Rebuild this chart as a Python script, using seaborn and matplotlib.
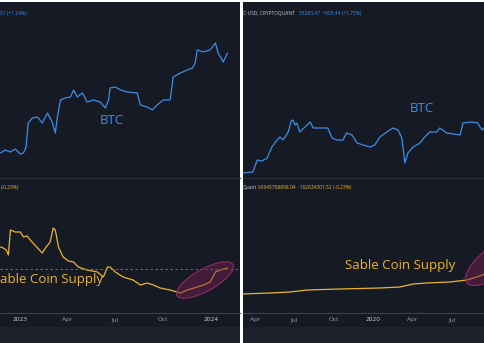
import matplotlib
matplotlib.use("Agg")
import matplotlib.pyplot as plt
from matplotlib.patches import Rectangle, Ellipse
import pandas as pd
import seaborn as sns

sns.set_style("dark")
plt.rcParams['font.family'] = ['Open Sans', 'DejaVu Sans']

# ---------------- data: left chart (2022-11 .. 2024-02) ----------------
left_btc_dates = ["2022-11-24", "2022-12-03", "2022-12-13", "2022-12-22", "2023-01-01", "2023-01-07",
                  "2023-01-12", "2023-01-16", "2023-01-24", "2023-02-03", "2023-02-12", "2023-02-22",
                  "2023-03-03", "2023-03-09", "2023-03-13", "2023-03-19", "2023-03-28", "2023-04-07",
                  "2023-04-13", "2023-04-20", "2023-04-30", "2023-05-09", "2023-05-21", "2023-06-03",
                  "2023-06-13", "2023-06-19", "2023-06-22", "2023-07-02", "2023-07-12", "2023-07-25",
                  "2023-08-13", "2023-08-19", "2023-09-01", "2023-09-11", "2023-09-20", "2023-10-02",
                  "2023-10-15", "2023-10-21", "2023-11-04", "2023-11-17", "2023-11-27", "2023-12-02",
                  "2023-12-06", "2023-12-18", "2023-12-31", "2024-01-10", "2024-01-15", "2024-01-25",
                  "2024-02-02"]
left_btc_price = [16800, 17290, 16960, 17450, 16640, 16800,
                  17790, 22380, 23470, 23690, 22380, 24610,
                  22590, 20330, 23690, 27870, 28410, 28680,
                  30660, 28680, 29800, 27340, 27870, 27340,
                  25820, 27870, 31260, 31550, 30660, 30080,
                  29800, 26570, 26060, 25330, 26570, 27870,
                  27870, 34720, 36070, 37130, 37830, 39690,
                  44940, 44100, 44940, 48010, 43660, 40070,
                  43660]

left_supply_dates = ["2022-11-24", "2022-11-29", "2022-12-05", "2022-12-09", "2022-12-13", "2022-12-22",
                     "2023-01-01", "2023-01-07", "2023-01-14", "2023-01-20", "2023-02-03", "2023-02-12",
                     "2023-02-18", "2023-02-27", "2023-03-05", "2023-03-09", "2023-03-15", "2023-03-24",
                     "2023-04-03", "2023-04-13", "2023-04-22", "2023-05-09", "2023-05-29", "2023-06-09",
                     "2023-06-17", "2023-06-22", "2023-07-02", "2023-07-17", "2023-08-05", "2023-08-19",
                     "2023-09-01", "2023-09-13", "2023-09-26", "2023-10-15", "2023-11-04", "2023-11-17",
                     "2023-12-06", "2023-12-18", "2023-12-31", "2024-01-10", "2024-01-19", "2024-02-02"]
left_supply_bn = [75.5, 75.25, 74.75, 73.5, 79.75, 79.25,
                  79.25, 78.0, 78.25, 77.25, 75.25, 74.0,
                  75.25, 76.75, 80.25, 79.75, 75.5, 73.0,
                  72.0, 71.75, 70.5, 69.75, 69.25, 68.0,
                  70.5, 70.5, 69.25, 68.0, 67.25, 66.0,
                  66.5, 66.0, 65.25, 64.75, 64.0, 64.75,
                  65.5, 66.0, 66.75, 69.25, 69.75, 70.25]
left_supply_last = 70.0

left_tick_dates = ["2023-01-01", "2023-04-01", "2023-07-01", "2023-10-01", "2024-01-01"]
left_tick_labels = ["2023", "Apr", "Jul", "Oct", "2024"]

# ---------------- data: right chart (2019-03 .. 2020-09) ----------------
right_btc_dates = ["2019-03-02", "2019-03-27", "2019-04-06", "2019-04-17", "2019-04-29", "2019-05-10",
                   "2019-05-22", "2019-05-29", "2019-06-05", "2019-06-17", "2019-06-24", "2019-06-28",
                   "2019-07-03", "2019-07-07", "2019-07-14", "2019-07-26", "2019-08-07", "2019-08-14",
                   "2019-08-30", "2019-09-17", "2019-09-27", "2019-10-08", "2019-10-22", "2019-10-31",
                   "2019-11-12", "2019-11-24", "2019-12-08", "2019-12-24", "2020-01-04", "2020-01-16",
                   "2020-02-01", "2020-02-15", "2020-02-27", "2020-03-07", "2020-03-14", "2020-03-21",
                   "2020-04-02", "2020-04-18", "2020-04-29", "2020-05-11", "2020-05-27", "2020-06-03",
                   "2020-06-19", "2020-07-20", "2020-07-27", "2020-08-16", "2020-08-30", "2020-09-09",
                   "2020-09-16"]
right_btc_price = [3900, 3990, 5230, 5110, 5470, 7010,
                   8210, 8790, 8210, 9840, 12610, 12900,
                   11520, 12050, 9840, 11010, 12330, 10770,
                   10770, 10770, 8590, 8210, 8210, 9620,
                   9200, 7680, 7340, 7010, 7340, 8790,
                   9840, 10770, 10300, 8590, 4890, 6120,
                   7010, 7680, 8790, 9840, 9840, 10770,
                   9620, 9200, 12050, 12330, 12050, 10300,
                   11010]

right_supply_dates = ["2019-03-02", "2019-05-06", "2019-06-21", "2019-07-31", "2019-10-15", "2020-01-16",
                      "2020-03-02", "2020-04-02", "2020-05-04", "2020-06-26", "2020-08-05", "2020-08-28",
                      "2020-09-16"]
right_supply_bn = [5.6, 6.2, 6.8, 8.0, 8.6, 9.2,
                   9.8, 11.6, 12.2, 12.8, 14.0, 15.8,
                   17.6]

right_tick_dates = ["2019-04-01", "2019-07-01", "2019-10-01", "2020-01-01", "2020-04-01", "2020-07-01"]
right_tick_labels = ["Apr", "Jul", "Oct", "2020", "Apr", "Jul"]

# ---------------- styling ----------------
W, H = 485, 343
BG = "#161a25"
BAND = "#1e222d"
BLUE = "#3a8ee6"
YELLOW = "#e9b52b"
GRID = "#2a2e39"
AXLINE = "#3d414c"
TICKC = "#9ea1aa"

fig = plt.figure(figsize=(W / 100, H / 100), dpi=100, facecolor="white")


def px_axes(x0, y0, x1, y1, **kw):
    return fig.add_axes([x0 / W, 1 - y1 / H, (x1 - x0) / W, (y1 - y0) / H], **kw)


def panel(x0, x1, btc_d, btc_p, sup_d, sup_v, xlim, top_ylim, bot_ylim, tdates, tlabels):
    fig.add_artist(Rectangle((x0 / W, 0), (x1 - x0) / W, 1 - 2 / H, transform=fig.transFigure,
                             facecolor=BG, edgecolor="none", zorder=0))
    fig.add_artist(Rectangle((x0 / W, 0), (x1 - x0) / W, 16 / H, transform=fig.transFigure,
                             facecolor=BAND, edgecolor="none", zorder=0))
    xl = pd.to_datetime(xlim)

    top = px_axes(x0, 2, x1, 178)
    top.set_facecolor("none")
    df1 = pd.DataFrame({"date": pd.to_datetime(btc_d), "price": btc_p})
    sns.lineplot(data=df1, x="date", y="price", ax=top, color=BLUE, linewidth=0.9)
    top.set_yscale("log")
    top.set_ylim(*top_ylim)
    top.set_xlim(xl[0], xl[1])
    top.set_xticks([]); top.set_yticks([]); top.minorticks_off()
    top.set_xlabel(""); top.set_ylabel("")
    for s in ["top", "left", "right"]:
        top.spines[s].set_visible(False)
    top.spines["bottom"].set_color(GRID)
    top.spines["bottom"].set_linewidth(0.8)

    bot = px_axes(x0, 178, x1, 313)
    bot.set_facecolor("none")
    df2 = pd.DataFrame({"date": pd.to_datetime(sup_d), "supply": sup_v})
    sns.lineplot(data=df2, x="date", y="supply", ax=bot, color=YELLOW, linewidth=0.9)
    bot.set_ylim(*bot_ylim)
    bot.set_xlim(xl[0], xl[1])
    bot.set_yticks([])
    bot.set_xticks(pd.to_datetime(tdates))
    bot.set_xticklabels(tlabels)
    bot.tick_params(axis="x", length=0, pad=3, labelsize=4.6, labelcolor=TICKC)
    for lab in bot.get_xticklabels():
        if lab.get_text().isdigit():
            lab.set_color("#d1d4dc")
    bot.set_xlabel(""); bot.set_ylabel("")
    for s in ["top", "left", "right"]:
        bot.spines[s].set_visible(False)
    bot.spines["bottom"].set_color(AXLINE)
    bot.spines["bottom"].set_linewidth(0.8)
    return top, bot


ltop, lbot = panel(0, 240, left_btc_dates, left_btc_price, left_supply_dates, left_supply_bn,
                   ["2022-11-23", "2024-02-26"], (13230, 71030), (59, 92.75),
                   left_tick_dates, left_tick_labels)
lbot.axhline(left_supply_last, color="#8c7d4e", linestyle=(0, (3, 3)), linewidth=0.6)

rtop, rbot = panel(243, 485, right_btc_dates, right_btc_price, right_supply_dates, right_supply_bn,
                   ["2019-03-04", "2020-09-16"], (3484, 184900), (-5.8, 75.2),
                   right_tick_dates, right_tick_labels)

# ---------------- overlay for annotations (pixel coordinates) ----------------
ov = fig.add_axes([0, 0, 1, 1])
ov.set_xlim(0, W); ov.set_ylim(H, 0)
ov.axis("off")
ov.patch.set_alpha(0)

for (cx, cy, w, h, a) in [(205, 280, 64, 22, -29), (499, 259, 80, 30, -36)]:
    ov.add_patch(Ellipse((cx, cy), w, h, angle=a, facecolor="#7a1f55", alpha=0.45,
                         edgecolor="none"))
    ov.add_patch(Ellipse((cx, cy), w, h, angle=a, facecolor="none", edgecolor="#9a2f6a",
                         linewidth=0.8, alpha=0.9))

ov.text(112, 121, "BTC", color=BLUE, fontsize=9.5, ha="center", va="center")
ov.text(422, 108, "BTC", color=BLUE, fontsize=9.5, ha="center", va="center")
ov.text(0.5, 280, "able Coin Supply", color=YELLOW, fontsize=9.5, ha="left", va="center")
ov.text(345, 265, "Sable Coin Supply", color=YELLOW, fontsize=9.5, ha="left", va="center")

SMALL = 3.5
ov.text(0.5, 13, "01 (+1.24%)", color=BLUE, fontsize=SMALL, ha="left", va="center")
ov.text(0.5, 187, "(-0.23%)", color=YELLOW, fontsize=SMALL, ha="left", va="center")
ov.text(243, 13, "C-USD, CRYPTOQUANT", color="#c8cad0", fontsize=SMALL, ha="left", va="center")
ov.text(299, 13, "35283.47  +605.44 (+1.75%)", color=BLUE, fontsize=SMALL, ha="left", va="center")
ov.text(243, 187, "Quant", color="#c8cad0", fontsize=SMALL, ha="left", va="center")
ov.text(258, 187, "69945768898.04  -162634301.52 (-0.23%)", color=YELLOW, fontsize=SMALL,
        ha="left", va="center")

fig.savefig("out.png", dpi=100, facecolor="white")
